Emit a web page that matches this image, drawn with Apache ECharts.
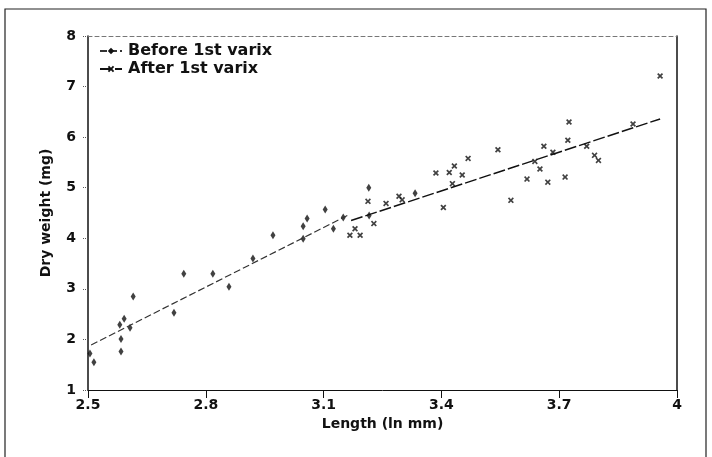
<!DOCTYPE html>
<html><head><meta charset="utf-8">
<script src="https://cdn.jsdelivr.net/npm/echarts@6/dist/echarts.min.js"></script>
<style>html,body{margin:0;padding:0;background:#fff}#c{width:712px;height:457px}</style>
</head><body><div id="c"></div>
<script>
const xTicks = [2.5, 2.8, 3.1, 3.4, 3.7, 4];
const yTicks = [1, 2, 3, 4, 5, 6, 7, 8];
const beforeX = [2.505, 2.515, 2.584, 2.584, 2.581, 2.592, 2.607, 2.615, 2.719, 2.744, 2.818, 2.859, 2.920, 2.971, 3.048, 3.048, 3.058, 3.104, 3.125, 3.150, 3.215, 3.216, 3.333];
const beforeY = [1.72, 1.55, 1.76, 2.01, 2.29, 2.41, 2.23, 2.85, 2.53, 3.30, 3.30, 3.04, 3.60, 4.06, 3.99, 4.24, 4.39, 4.57, 4.19, 4.41, 5.00, 4.45, 4.89];
const afterX = [3.180, 3.167, 3.193, 3.213, 3.228, 3.259, 3.292, 3.300, 3.386, 3.405, 3.420, 3.428, 3.433, 3.453, 3.468, 3.544, 3.577, 3.618, 3.638, 3.651, 3.661, 3.671, 3.684, 3.715, 3.722, 3.725, 3.770, 3.790, 3.800, 3.888, 3.957];
const afterY = [4.19, 4.06, 4.06, 4.73, 4.29, 4.69, 4.83, 4.76, 5.29, 4.61, 5.30, 5.08, 5.43, 5.25, 5.58, 5.75, 4.75, 5.17, 5.52, 5.37, 5.82, 5.11, 5.70, 5.21, 5.94, 6.30, 5.82, 5.64, 5.54, 6.26, 7.21];
const beforeLineX = [2.508, 3.163];
const beforeLineY = [1.89, 4.46];
const afterLineX = [3.170, 3.957];
const afterLineY = [4.35, 6.36];

const zip = (a, b) => a.map((v, i) => [v, b[i]]);
const xMark = 'path://M0,2L2,0L5,3L8,0L10,2L7,5L10,8L8,10L5,7L2,10L0,8L3,5Z';
const font = 'DejaVu Sans';
const fs = 14;
const chart = echarts.init(document.getElementById('c'), null, {renderer: 'canvas'});
chart.setOption({
  animation: false,
  backgroundColor: '#fff',
  graphic: [{type: 'rect', shape: {x: 5, y: 9, width: 701, height: 460}, style: {fill: 'none', stroke: '#222', lineWidth: 1.2}}],
  grid: {left: 88, right: 35, top: 36, bottom: 67},
  legend: {
    orient: 'vertical', left: 94, top: 38, itemGap: 2, itemWidth: 22, itemHeight: 8,
    data: ['Before 1st varix', 'After 1st varix'],
    textStyle: {fontFamily: font, fontWeight: 'bold', fontSize: 16, color: '#111', padding: [0, 0, 0, 1]}
  },
  xAxis: [{
    type: 'value', min: 2.5, max: 4, interval: 0.3,
    axisLine: {lineStyle: {color: '#111', width: 1}},
    axisTick: {show: true, length: 8, lineStyle: {color: '#111'}},
    splitLine: {show: false},
    axisLabel: {fontFamily: font, fontWeight: 'bold', fontSize: fs, color: '#111', margin: 8,
      formatter: v => { const t = xTicks.find(k => Math.abs(k - v) < 1e-6); return t === undefined ? '' : String(t); }},
    name: 'Length (ln mm)', nameLocation: 'middle', nameGap: 25,
    nameTextStyle: {fontFamily: font, fontWeight: 'bold', fontSize: fs, color: '#111'}
  }, {
    type: 'value', min: 2.5, max: 4, position: 'top',
    axisLine: {show: true, lineStyle: {color: '#777', width: 1, type: [4, 3]}},
    axisTick: {show: false}, axisLabel: {show: false}, splitLine: {show: false}
  }],
  yAxis: [{
    type: 'value', min: 1, max: 8, interval: 1,
    axisLine: {show: true, lineStyle: {color: '#111', width: 1.5}},
    axisTick: {show: true, length: 5, lineStyle: {color: '#555', type: 'dotted'}},
    splitLine: {show: false},
    axisLabel: {fontFamily: font, fontWeight: 'bold', fontSize: fs, color: '#111', margin: 12,
      formatter: v => { const t = yTicks.find(k => Math.abs(k - v) < 1e-6); return t === undefined ? '' : String(t); }},
    name: 'Dry weight (mg)', nameLocation: 'middle', nameGap: 35,
    nameTextStyle: {fontFamily: font, fontWeight: 'bold', fontSize: fs, color: '#111'}
  }, {
    type: 'value', min: 1, max: 8, position: 'right',
    axisLine: {show: true, lineStyle: {color: '#111', width: 1.5}},
    axisTick: {show: false}, axisLabel: {show: false}, splitLine: {show: false}
  }],
  series: [
    {name: 'Before 1st varix', type: 'line', data: zip(beforeLineX, beforeLineY), showSymbol: false,
      symbol: 'diamond', symbolSize: 6, itemStyle: {color: '#111'},
      lineStyle: {color: '#333', width: 1.2, type: [7, 3]}},
    {name: 'After 1st varix', type: 'line', data: zip(afterLineX, afterLineY), showSymbol: false,
      symbol: xMark, symbolSize: 6, itemStyle: {color: '#111'},
      lineStyle: {color: '#111', width: 1.5, type: [12, 3]}},
    {name: 'before pts', type: 'scatter', data: zip(beforeX, beforeY), symbol: 'diamond', symbolSize: [5, 8],
      itemStyle: {color: '#111'}},
    {name: 'after pts', type: 'scatter', data: zip(afterX, afterY), symbol: xMark, symbolSize: 6,
      itemStyle: {color: '#111'}}
  ]
});
</script></body></html>
